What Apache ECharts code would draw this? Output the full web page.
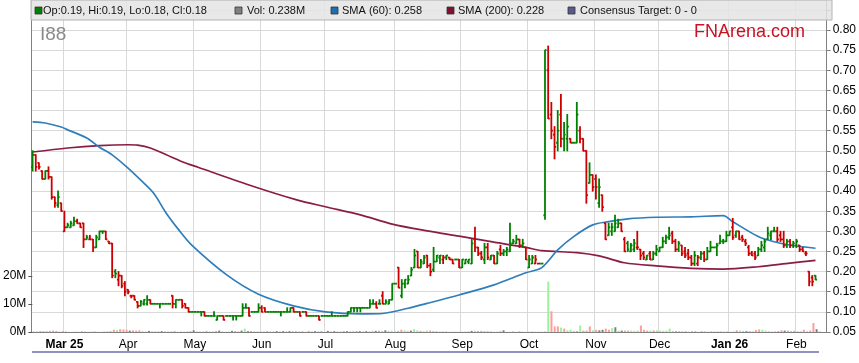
<!DOCTYPE html>
<html><head><meta charset="utf-8">
<script src="https://cdn.jsdelivr.net/npm/echarts@6/dist/echarts.min.js"></script>
<style>html,body{margin:0;padding:0;background:#fff}#c{width:859px;height:363px}</style>
</head><body><div id="c"></div>
<script>
// ---- data ----
const monthLabels = ['Mar 25','Apr','May','Jun','Jul','Aug','Sep','Oct','Nov','Dec','Jan 26','Feb'];
const monthStarts = [10,30,51,72,92,114,135,156,177,197,219,240];
const yearLabels = ['Mar 25','Jan 26'];
const opens = [
.46,.49,.47,.45,.43,.45,.435,.385,.365,.37,.30,.31,.31,.315,.325,.32,.32,.28,.28,.28,
.26,.28,.30,.30,.275,.27,.20,.18,.19,.17,.155,.14,.14,.125,.115,.12,.12,.13,.12,.12,
.12,.12,.12,.12,.14,.12,.13,.13,.12,.11,.10,.10,.10,.10,.10,.09,.09,.09,.08,.09,
.09,.09,.09,.09,.09,.09,.09,.11,.11,.10,.10,.10,.11,.11,.10,.10,.10,.10,.10,.10,
.10,.10,.11,.10,.10,.10,.10,.09,.09,.09,.09,.09,.09,.09,.09,.09,.09,.09,.09,.09,
.10,.11,.11,.11,.11,.11,.11,.12,.12,.12,.14,.12,.12,.13,.17,.21,.14,.17,.17,.19,
.21,.25,.21,.22,.24,.215,.205,.225,.235,.23,.235,.235,.23,.23,.23,.21,.22,.225,.22,.28,
.26,.245,.23,.26,.23,.24,.22,.255,.245,.25,.25,.27,.27,.28,.265,.26,.21,.22,.22,.22,
.22,.34,.70,.59,.54,.52,.59,.53,.53,.53,.52,.52,.55,.53,.50,.42,.44,.43,.37,.39,
.32,.29,.30,.30,.31,.32,.28,.27,.25,.255,.26,.255,.245,.23,.245,.23,.245,.25,.26,.275,
.285,.295,.275,.255,.265,.25,.245,.235,.22,.22,.235,.245,.23,.25,.26,.26,.27,.275,.275,.29,
.31,.29,.30,.285,.275,.26,.245,.245,.24,.255,.26,.28,.29,.30,.30,.29,.28,.265,.275,.265,
.265,.265,.255,.245,.20,.185,.19];
const highs = [
.50,.49,.47,.45,.45,.46,.435,.385,.40,.37,.35,.32,.325,.335,.33,.32,.32,.29,.29,.28,
.29,.30,.30,.30,.275,.27,.205,.20,.19,.175,.155,.14,.14,.125,.128,.13,.14,.13,.12,.12,
.12,.12,.12,.12,.14,.13,.13,.13,.12,.11,.10,.10,.10,.10,.10,.09,.09,.10,.09,.09,
.09,.09,.09,.09,.09,.09,.12,.12,.11,.10,.10,.12,.115,.11,.10,.10,.10,.10,.10,.10,
.11,.11,.11,.10,.10,.10,.10,.09,.09,.09,.09,.09,.09,.09,.10,.09,.09,.09,.09,.10,
.11,.11,.11,.11,.11,.11,.13,.13,.125,.13,.15,.13,.13,.17,.17,.21,.18,.18,.19,.21,
.255,.25,.23,.24,.24,.22,.26,.24,.24,.24,.24,.235,.23,.23,.23,.23,.23,.23,.28,.31,
.26,.25,.27,.27,.24,.24,.25,.265,.255,.26,.32,.28,.29,.28,.28,.26,.24,.24,.24,.22,
.22,.75,.76,.62,.56,.60,.64,.57,.59,.53,.52,.62,.56,.53,.50,.47,.44,.44,.43,.39,
.32,.32,.32,.34,.33,.32,.285,.275,.27,.28,.30,.255,.25,.24,.25,.25,.265,.26,.285,.29,
.31,.30,.28,.275,.265,.26,.255,.24,.25,.24,.25,.25,.26,.275,.26,.27,.29,.28,.30,.30,
.332,.30,.30,.29,.28,.265,.25,.25,.26,.275,.28,.31,.30,.31,.31,.30,.30,.28,.28,.275,
.28,.265,.26,.25,.20,.19,.19];
const lows = [
.45,.45,.455,.43,.43,.43,.38,.36,.36,.35,.30,.31,.31,.315,.32,.31,.26,.28,.28,.25,
.26,.28,.295,.28,.27,.185,.185,.165,.16,.14,.145,.135,.13,.11,.115,.117,.117,.12,.12,.12,
.11,.12,.12,.12,.11,.11,.13,.11,.11,.10,.10,.10,.10,.09,.09,.09,.09,.09,.08,.09,
.08,.09,.09,.08,.08,.09,.09,.11,.09,.10,.10,.10,.10,.10,.10,.10,.10,.10,.09,.10,
.10,.10,.10,.10,.09,.10,.09,.09,.09,.09,.08,.09,.09,.09,.09,.09,.09,.09,.09,.09,
.10,.10,.10,.10,.11,.11,.11,.12,.11,.12,.12,.12,.12,.13,.17,.16,.135,.16,.17,.19,
.21,.21,.21,.22,.21,.19,.20,.225,.22,.22,.23,.23,.22,.23,.21,.21,.22,.22,.22,.25,
.24,.23,.22,.23,.23,.22,.22,.24,.24,.24,.25,.27,.27,.26,.26,.23,.21,.22,.22,.22,
.22,.33,.58,.53,.48,.50,.51,.50,.50,.52,.52,.52,.52,.50,.37,.42,.40,.38,.36,.35,
.28,.29,.29,.30,.31,.30,.25,.25,.25,.25,.255,.23,.23,.23,.23,.23,.24,.25,.26,.27,
.28,.27,.25,.25,.24,.235,.23,.215,.215,.215,.23,.225,.23,.25,.26,.24,.27,.27,.275,.29,
.28,.285,.28,.275,.265,.24,.24,.23,.24,.25,.25,.28,.28,.30,.275,.275,.26,.26,.26,.26,
.26,.25,.25,.24,.165,.165,.18];
const closes = [
.49,.46,.46,.43,.45,.435,.385,.37,.385,.35,.31,.315,.32,.325,.32,.31,.28,.285,.28,.26,
.285,.30,.30,.28,.27,.19,.195,.19,.165,.15,.15,.14,.13,.115,.125,.13,.13,.12,.12,.12,
.12,.12,.12,.12,.12,.13,.13,.115,.11,.10,.10,.10,.10,.10,.09,.09,.09,.09,.09,.09,
.08,.09,.09,.09,.09,.09,.11,.11,.09,.10,.10,.11,.10,.10,.10,.10,.10,.10,.10,.10,
.10,.11,.10,.10,.09,.10,.09,.09,.09,.09,.08,.09,.09,.09,.09,.09,.09,.09,.09,.10,
.11,.11,.11,.11,.11,.11,.12,.12,.11,.12,.12,.125,.13,.17,.17,.16,.17,.18,.18,.205,
.24,.21,.225,.235,.215,.20,.225,.24,.24,.235,.24,.23,.22,.23,.21,.23,.23,.23,.27,.26,
.245,.235,.26,.235,.24,.22,.245,.245,.25,.255,.27,.275,.28,.265,.27,.23,.23,.235,.23,.22,
.22,.75,.58,.55,.51,.55,.53,.54,.56,.52,.52,.59,.53,.50,.39,.44,.41,.41,.41,.36,
.28,.31,.31,.32,.32,.30,.25,.255,.265,.27,.26,.24,.235,.24,.23,.245,.255,.26,.275,.285,
.29,.275,.255,.27,.245,.24,.235,.22,.24,.235,.245,.23,.25,.26,.26,.265,.275,.275,.29,.30,
.285,.30,.28,.28,.27,.245,.24,.235,.255,.265,.275,.295,.30,.30,.28,.28,.265,.275,.265,.27,
.275,.255,.25,.245,.175,.175,.18];
const volumesM = [
.3,.2,.2,.3,.4,.4,.5,.4,.2,.3,.2,.1,.1,.2,.1,.3,.2,.1,.1,.2,
.1,.1,.1,.2,.3,.8,.7,1.0,.9,.8,.5,.6,.5,.6,.3,.2,.4,.2,.1,.1,
.3,.1,.1,.1,.2,.1,.1,.1,.2,.3,.6,.1,.1,.1,.4,.1,.1,.2,.5,.1,
.1,.2,.4,.2,.1,.5,1.2,.3,.4,.3,.1,.3,.2,.2,.1,.1,.3,.1,.3,.1,
.3,.4,.3,.1,.3,.1,.4,.1,.3,.1,.4,.1,.4,.1,.3,.1,.1,.2,.3,.3,
.4,.2,.3,.1,.3,.1,.5,.4,.5,.4,.6,.4,.5,.4,.2,.8,.6,.4,.5,1.0,
.6,.4,.3,.5,.5,.3,.4,.2,.1,.2,.1,.1,.1,.1,.1,.2,.1,.4,.5,.4,
.4,.3,.4,.2,.1,.1,.4,.6,.1,.1,.3,.1,.4,.1,.1,.1,.1,.1,.1,.1,
.1,18.0,7.4,2.0,2.0,1.6,1.2,.6,.8,.3,.2,2.3,.5,.5,2.0,.6,.8,.6,.8,1.2,
.8,1.4,1.7,.5,.5,.5,.5,.5,.4,.5,2.3,.8,.5,.5,.6,.6,.5,.4,.5,1.2,
.4,.4,.3,.3,.3,.1,.3,.3,.1,.3,.3,.1,.3,.2,.1,.3,.2,.1,.1,.2,
.6,.5,.3,.3,.3,.2,.7,.9,.8,.5,.3,.2,.3,.2,.6,.5,.5,.4,.4,.3,
.3,.8,.2,.5,3.2,1.0,.238];
const sma60Idx = [0,4,9,11,17,21,25,30,34,38,42,46,50,61,71,82,92,103,110,118,124,134,145,155,160,165,170,176,181,187,196,207,217,220,228,233,238,246];
const sma60Val = [.572,.569,.559,.552,.532,.509,.490,.457,.427,.395,.345,.303,.266,.192,.144,.115,.100,.095,.096,.109,.121,.142,.167,.197,.210,.254,.287,.316,.324,.331,.335,.336,.339,.324,.287,.274,.266,.258];
const sma200Idx = [0,11,21,30,33,37,42,47,52,68,83,92,103,113,124,134,145,155,160,171,178,186,196,207,217,228,238,246];
const sma200Val = [.497,.507,.513,.515,.514,.507,.490,.473,.459,.415,.378,.361,.341,.318,.301,.288,.273,.260,.252,.247,.239,.222,.214,.208,.206,.212,.221,.228];
const volTickLabels = ['0M','10M','20M'];
const legendTexts = ['Op:0.19, Hi:0.19, Lo:0.18, Cl:0.18','Vol: 0.238M','SMA (60): 0.258','SMA (200): 0.228','Consensus Target: 0 - 0'];

// ---- chart ----
const FONT = '"Liberation Sans", Arial, sans-serif';
const NCAT = 250;
const cats = Array.from({length: NCAT}, (_, i) => String(i));
const GREEN = '#008000', RED = '#cc0000';
function dirOf(i){
  const c = closes[i], pc = i > 0 ? closes[i-1] : opens[i];
  if (c > pc) return 1; if (c < pc) return -1; return 0;
}
const ohlcData = opens.map((o, i) => [i, o, closes[i], lows[i], highs[i], dirOf(i)]);
const volData = volumesM.map((v, i) => {
  const d = dirOf(i);
  return {value: v * 1e6, itemStyle: {color: d > 0 ? '#9cf29c' : (d < 0 ? '#ff9c9c' : '#808080')}};
});
const pair = (a, b) => a.map((x, i) => [x, b[i]]);
const isMonth = (i) => monthStarts.indexOf(i) >= 0;
const PMIN = 0.05, PMAX = 0.05 + 332 / 402.67;

const chart = echarts.init(document.getElementById('c'), null, {renderer: 'canvas'});
const legendX = [35, 235, 331, 447, 568];
const legendTX = [43, 247, 342, 458, 580];
const legendCols = ['#008000', '#808080', '#1f6fb0', '#7f1030', '#5a5a8c'];
const graphics = [
  {type: 'rect', shape: {x: 31, y: 0, width: 801, height: 20}, style: {fill: 'rgba(228,228,228,0.85)', stroke: '#b4b4b4', lineWidth: 1}, z: 100},
  {type: 'text', left: 40, top: 25, style: {text: 'I88', font: '19px ' + FONT, fill: '#8a8a8a'}, z: 100},
  {type: 'text', left: 694, top: 23, style: {text: 'FNArena.com', font: '18px ' + FONT, fill: '#cc1122'}, z: 100},
  {type: 'line', shape: {x1: 32, y1: 352, x2: 819, y2: 352}, style: {stroke: '#6b6bb0', lineWidth: 1.5}, z: 100}
];
legendTexts.forEach((t, k) => {
  graphics.push({type: 'rect', shape: {x: legendX[k], y: 7, width: 7, height: 7}, style: {fill: legendCols[k], stroke: '#333', lineWidth: 0.8}, z: 101});
  graphics.push({type: 'text', left: legendTX[k], top: 5, style: {text: t, font: '11px ' + FONT, fill: '#111'}, z: 101});
});

chart.setOption({
  animation: false,
  textStyle: {fontFamily: FONT},
  grid: [
    {left: 31, right: 28, top: 0, bottom: 31},
    {left: 31, right: 28, top: 276, bottom: 31}
  ],
  xAxis: [
    {type: 'category', gridIndex: 0, data: cats, boundaryGap: true,
     axisLine: {lineStyle: {color: '#808080'}}, axisTick: {show: false},
     axisLabel: {interval: (i) => isMonth(i), margin: 7, fontSize: 12, color: '#000',
       formatter: (v, i) => { const k = monthStarts.indexOf(Number(v)); if (k < 0) return ''; const s = monthLabels[k]; return yearLabels.indexOf(s) >= 0 ? '{b|' + s + '}' : s; },
       rich: {b: {fontWeight: 'bold', fontSize: 12, color: '#000', fontFamily: FONT}}},
     splitLine: {show: true, interval: (i) => isMonth(i), lineStyle: {color: '#d9d9d9', width: 1}}},
    {type: 'category', gridIndex: 1, data: cats, boundaryGap: true, show: false}
  ],
  yAxis: [
    {type: 'value', gridIndex: 0, position: 'right', min: PMIN, max: PMAX, interval: 0.05,
     axisLine: {show: true, lineStyle: {color: '#808080'}},
     axisTick: {show: true, inside: false, length: 4, lineStyle: {color: '#808080'}},
     axisLabel: {margin: 6, fontSize: 12, color: '#000', showMaxLabel: false, formatter: (v) => v > 0.8001 ? '' : v.toFixed(2)},
     splitLine: {show: true, lineStyle: {color: '#d9d9d9', width: 1}}},
    {type: 'value', gridIndex: 0, position: 'left', min: 0, max: 1,
     axisLine: {show: true, lineStyle: {color: '#808080'}}, axisTick: {show: false}, axisLabel: {show: false}, splitLine: {show: false}},
    {type: 'value', gridIndex: 1, position: 'left', min: 0, max: 20e6, interval: 10e6,
     axisLine: {show: false}, axisTick: {show: true, inside: false, length: 4, lineStyle: {color: '#555'}},
     axisLabel: {margin: 6, fontSize: 12, color: '#000', formatter: (v) => volTickLabels[Math.round(v / 10e6)] || ''},
     splitLine: {show: false}}
  ],
  series: [
    {type: 'bar', xAxisIndex: 1, yAxisIndex: 2, data: volData, barWidth: 2, z: 2},
    {type: 'line', xAxisIndex: 0, yAxisIndex: 0, data: pair(sma200Idx, sma200Val), smooth: 0.3, showSymbol: false,
     lineStyle: {color: '#8b1c46', width: 1.7}, z: 3},
    {type: 'line', xAxisIndex: 0, yAxisIndex: 0, data: pair(sma60Idx, sma60Val), smooth: 0.3, showSymbol: false,
     lineStyle: {color: '#2f7ebc', width: 1.7}, z: 3},
    {type: 'custom', xAxisIndex: 0, yAxisIndex: 0, data: ohlcData, encode: {x: 0, y: [1, 2, 3, 4]}, z: 4,
     renderItem: function (params, api) {
       const i = api.value(0);
       const po = api.coord([i, api.value(1)]), pc = api.coord([i, api.value(2)]);
       const pl = api.coord([i, api.value(3)]), ph = api.coord([i, api.value(4)]);
       const w = api.size([1, 0])[0];
       const d = api.value(5);
       const col = d > 0 ? GREEN : (d < 0 ? RED : (api.value(2) >= api.value(1) ? GREEN : RED));
       const x = po[0];
       const st = {stroke: col, lineWidth: 1.8};
       return {type: 'group', children: [
         {type: 'line', shape: {x1: x, y1: ph[1] - 0.5, x2: x, y2: pl[1] + 0.5}, style: st},
         {type: 'line', shape: {x1: x - w / 2, y1: po[1], x2: x, y2: po[1]}, style: st},
         {type: 'line', shape: {x1: x, y1: pc[1], x2: x + w / 2, y2: pc[1]}, style: st}
       ]};
     }}
  ],
  graphic: graphics
});
</script>
</body></html>
